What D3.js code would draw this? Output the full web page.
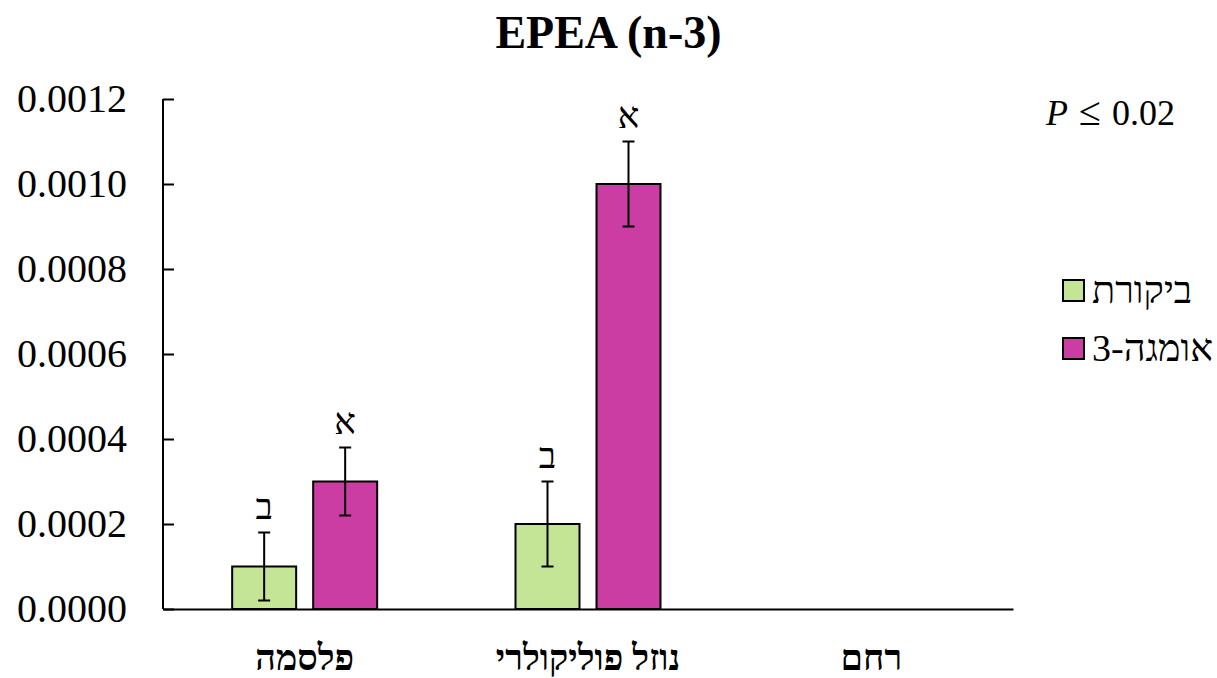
<!DOCTYPE html>
<html>
<head>
<meta charset="utf-8">
<script src="https://cdn.jsdelivr.net/npm/d3@7"></script>
<style>
  html, body { margin: 0; padding: 0; background: #fff; }
  svg { display: block; font-family: "Liberation Serif", "Times New Roman", serif; }
</style>
</head>
<body>
<svg id="chart" width="1217" height="678"></svg>
<script>
// Tissue groups along the x axis
const categories = ["פלסמה", "נוזל פוליקולרי", "רחם"];
// Treatment groups
const seriesNames = ["ביקורת", "אומגה-3"];
const seriesColors = ["#c5e596", "#cc3da3"];
// Mean EPEA level per group (null = not measured)
const controlValues = [0.0001, 0.0002, null];
const omegaValues = [0.0003, 0.0010, null];
// Standard errors
const controlErrors = [0.00008, 0.0001, null];
const omegaErrors = [0.00008, 0.0001, null];
// Significance letters
const controlLetters = ["ב", "ב", ""];
const omegaLetters = ["א", "א", ""];
// Y axis ticks
const yTicks = [0, 0.0002, 0.0004, 0.0006, 0.0008, 0.0010, 0.0012];

const svg = d3.select("#chart");
const W = 1217, H = 678;
const plot = { left: 163, right: 1013, top: 99, bottom: 609 };

const x = d3.scaleBand().domain(categories).range([plot.left, plot.right]).paddingInner(0).paddingOuter(0);
const xInner = d3.scaleBand().domain(seriesNames).range([0, x.bandwidth()])
  .paddingInner(0.21).paddingOuter(0.854);
const y = d3.scaleLinear().domain([0, 0.0012]).range([plot.bottom, plot.top]);

// Title
svg.append("text")
  .attr("x", W / 2).attr("y", 48)
  .attr("text-anchor", "middle")
  .attr("font-weight", "bold")
  .attr("font-size", 46)
  .text("EPEA (n-3)");

// Y axis with inward ticks
const yAxis = d3.axisLeft(y).tickValues(yTicks).tickSize(-11).tickPadding(36)
  .tickFormat(d3.format(".4f"));
const gy = svg.append("g").attr("transform", `translate(${plot.left},0)`).call(yAxis);
gy.select(".domain").attr("stroke", "#000").attr("stroke-width", 2).attr("d", `M0,${plot.top}H0V${plot.bottom}`);
gy.selectAll(".tick line").attr("stroke", "#000").attr("stroke-width", 2);
gy.selectAll(".tick text").attr("font-size", 40).attr("fill", "#000")
  .attr("font-family", "Liberation Serif, serif");

// X axis baseline and category labels
const xAxis = d3.axisBottom(x).tickSize(0).tickPadding(35);
const gx = svg.append("g").attr("transform", `translate(0,${plot.bottom})`).call(xAxis);
gx.select(".domain").attr("stroke", "#000").attr("stroke-width", 2);
gx.selectAll(".tick text").attr("font-size", 36).attr("font-weight", "bold").attr("fill", "#000")
  .attr("font-family", "Liberation Serif, serif");

// Bars, error bars and letters
const seriesData = [
  { name: seriesNames[0], color: seriesColors[0], values: controlValues, errors: controlErrors, letters: controlLetters },
  { name: seriesNames[1], color: seriesColors[1], values: omegaValues, errors: omegaErrors, letters: omegaLetters }
];

seriesData.forEach(s => {
  const items = categories.map((c, i) => ({ c, v: s.values[i], e: s.errors[i], l: s.letters[i] }))
    .filter(d => d.v != null);
  const g = svg.append("g");
  const bx = d => x(d.c) + xInner(s.name);
  const cx = d => bx(d) + xInner.bandwidth() / 2;

  g.selectAll("rect").data(items).join("rect")
    .attr("x", bx)
    .attr("y", d => y(d.v))
    .attr("width", xInner.bandwidth())
    .attr("height", d => y(0) - y(d.v))
    .attr("fill", s.color)
    .attr("stroke", "#000")
    .attr("stroke-width", 2);

  const cap = 6;
  g.selectAll("path.err").data(items).join("path")
    .attr("class", "err")
    .attr("fill", "none")
    .attr("stroke", "#000")
    .attr("stroke-width", 2)
    .attr("d", d => {
      const c = cx(d), t = y(d.v + d.e), b = y(d.v - d.e);
      return `M${c},${t}V${b}M${c - cap},${t}H${c + cap}M${c - cap},${b}H${c + cap}`;
    });

  g.selectAll("text").data(items).join("text")
    .attr("x", cx)
    .attr("y", d => y(d.v + d.e) - 14)
    .attr("text-anchor", "middle")
    .attr("font-size", 36)
    .text(d => d.l);
});

// P value note
const pText = svg.append("text").attr("y", 125).attr("font-size", 36);
pText.append("tspan").attr("x", 1046).attr("font-style", "italic").text("P");
pText.append("tspan").attr("x", 1079).attr("font-size", 40).text("≤");
pText.append("tspan").attr("x", 1112).text("0.02");

// Legend
const legend = svg.append("g");
seriesData.forEach((s, i) => {
  const ly = 280 + i * 58;
  legend.append("rect")
    .attr("x", 1063).attr("y", ly)
    .attr("width", 21).attr("height", 21)
    .attr("fill", s.color).attr("stroke", "#000").attr("stroke-width", 2);
  legend.append("text")
    .attr("x", 1092).attr("y", ly + 23)
    .attr("direction", "rtl")
    .attr("text-anchor", "end")
    .attr("font-size", 38)
    .text(s.name);
});
</script>
</body>
</html>
